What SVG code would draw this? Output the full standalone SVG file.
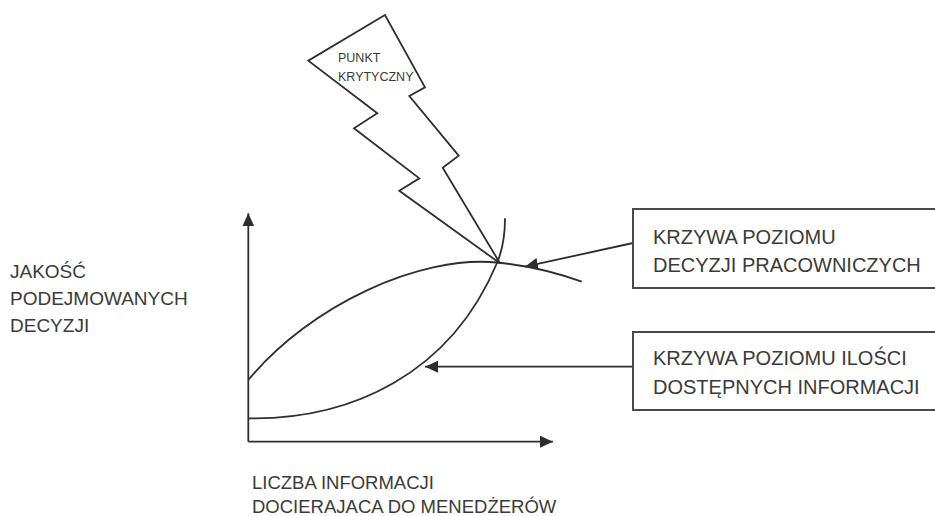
<svg xmlns="http://www.w3.org/2000/svg" width="935" height="516" viewBox="0 0 935 516">
<style>
.t{font-family:"Liberation Sans",Arial,sans-serif;fill:#3a3a3a}
.ln{fill:none;stroke:#2e2e2e;stroke-width:1.8}
.box{fill:#fff;stroke:#4a4a4a;stroke-width:2}
</style>
<defs>
<marker id="ah" markerUnits="userSpaceOnUse" markerWidth="14" markerHeight="12" refX="13" refY="6" orient="auto">
<path d="M0,0 L13,6 L0,12 z" fill="#2e2e2e"/>
</marker>
</defs>
<rect width="935" height="516" fill="#fff"/>
<g id="lightning">
<polygon class="ln" points="385,15 308.3,60.7 377.3,113.3 354,128.3 419.3,178.3 399.3,190.7 500,263.3 442.7,167.7 458.7,155.7 409.3,96 425,87.3"/>
<text class="t" x="338" y="62" font-size="12.5">PUNKT</text>
<text class="t" x="338" y="81" font-size="12.5">KRYTYCZNY</text>
</g>
<g id="curves">
<path class="ln" d="M248.3,380 C310,305 420,255 497,262.5 C530,265.7 555,272 581.7,281.7"/>
<path class="ln" d="M248.3,418.3 C350,420 450,375 497,263 C503,249 505,232 505,218.3"/>
</g>
<g id="connectors">
<line class="ln" x1="248.3" y1="441.7" x2="248.3" y2="213.3" marker-end="url(#ah)"/>
<line class="ln" x1="248.3" y1="441.7" x2="553" y2="441.7" marker-end="url(#ah)"/>
<line class="ln" x1="633" y1="243" x2="525" y2="266.7" marker-end="url(#ah)"/>
<line class="ln" x1="633" y1="366.7" x2="425" y2="366.7" marker-end="url(#ah)"/>
</g>
<g id="box-decyzje">
<rect class="box" x="633" y="209" width="310" height="79"/>
<text class="t" x="653" y="243.5" font-size="20">KRZYWA POZIOMU</text>
<text class="t" x="653" y="272" font-size="20">DECYZJI PRACOWNICZYCH</text>
</g>
<g id="box-informacje">
<rect class="box" x="633" y="332" width="310" height="78"/>
<text class="t" x="653" y="365" font-size="20">KRZYWA POZIOMU ILOŚCI</text>
<text class="t" x="653" y="393.5" font-size="20">DOSTĘPNYCH INFORMACJI</text>
</g>
<g id="label-y">
<text class="t" x="10" y="278" font-size="19">JAKOŚĆ</text>
<text class="t" x="10" y="305" font-size="19">PODEJMOWANYCH</text>
<text class="t" x="10" y="332" font-size="19">DECYZJI</text>
</g>
<g id="label-x">
<text class="t" x="252" y="489" font-size="18.5">LICZBA INFORMACJI</text>
<text class="t" x="252" y="513" font-size="18.5">DOCIERAJACA DO MENEDŻERÓW</text>
</g>
</svg>
